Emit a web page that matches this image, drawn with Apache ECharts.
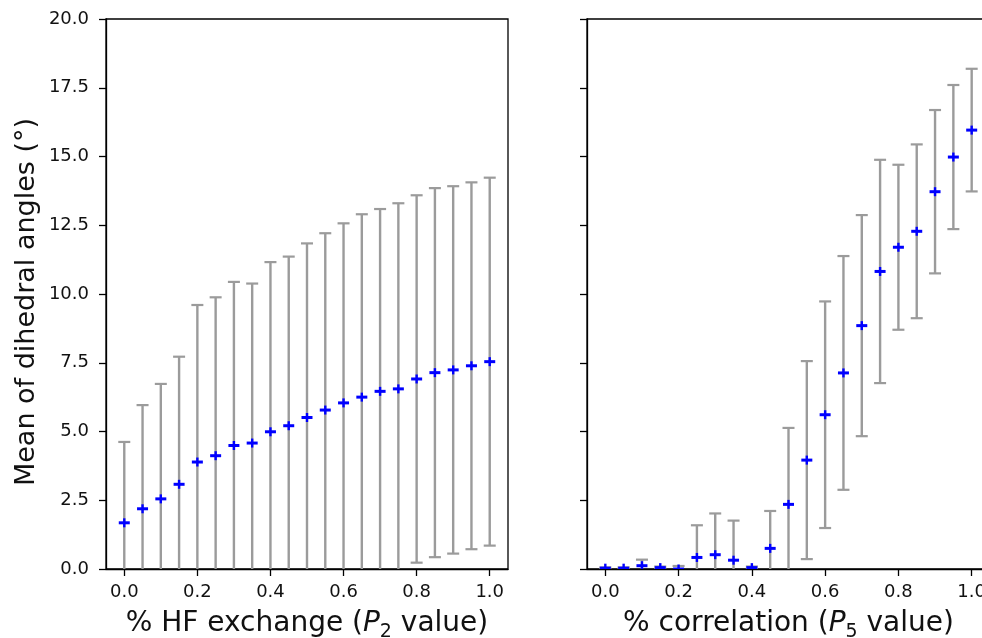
<!DOCTYPE html>
<html>
<head>
<meta charset="utf-8">
<script src="https://cdn.jsdelivr.net/npm/echarts@6/dist/echarts.min.js"></script>
<style>
html,body{margin:0;padding:0;background:#fff;}
#chart{width:982px;height:638px;}
</style>
</head>
<body>
<div id="chart"></div>
<script>
// x positions (parameter values)
const xValues = [0.00,0.05,0.10,0.15,0.20,0.25,0.30,0.35,0.40,0.45,0.50,0.55,0.60,0.65,0.70,0.75,0.80,0.85,0.90,0.95,1.00];
// Left panel: % HF exchange (P2) – mean and std of dihedral angles
const hfMean = [1.68,2.19,2.55,3.08,3.89,4.12,4.49,4.58,4.99,5.21,5.51,5.78,6.04,6.25,6.46,6.55,6.91,7.14,7.24,7.39,7.54];
const hfStd  = [2.94,3.77,4.18,4.64,5.71,5.76,5.95,5.80,6.17,6.15,6.33,6.43,6.53,6.65,6.63,6.75,6.68,6.71,6.68,6.67,6.69];
// Right panel: % correlation (P5) – mean and std of dihedral angles
const corrMean = [0.03,0.03,0.12,0.05,0.00,0.42,0.52,0.32,0.05,0.75,2.35,3.96,5.61,7.13,8.85,10.82,11.70,12.28,13.72,14.98,15.96];
const corrStd  = [0.03,0.03,0.22,0.04,0.11,1.17,1.50,1.44,0.04,1.36,2.78,3.60,4.12,4.25,4.02,4.06,3.00,3.16,2.97,2.62,2.23];
// tick labels
const xTicks = [0,0.2,0.4,0.6,0.8,1.0];
const yTickStep = 2.5;
const yMax = 20;
const yLabel = 'Mean of dihedral angles (°)';
const xLabelLeft = ['% HF exchange (', 'P', '2', ' value)'];
const xLabelRight = ['% correlation (', 'P', '5', ' value)'];

const FONT = 'DejaVu Sans';
const TXT = '#111';

function rows(means, stds){ return xValues.map((x,i)=>[x, means[i], stds[i]]); }

function renderErr(params, api){
  const x = api.value(0), m = api.value(1), s = api.value(2);
  const cs = params.coordSys;
  const top = api.coord([x, m + s]);
  const bot = api.coord([x, m - s]);
  const c = api.coord([x, m]);
  const yTop = cs.y, yBot = cs.y + cs.height;
  const grey = '#9b9b9b';
  const ch = [];
  ch.push({type:'line', shape:{x1:c[0], y1:Math.max(top[1], yTop), x2:c[0], y2:Math.min(bot[1], yBot)}, style:{stroke:grey, lineWidth:2.4}});
  if (top[1] >= yTop) ch.push({type:'line', shape:{x1:c[0]-6, y1:top[1], x2:c[0]+6, y2:top[1]}, style:{stroke:grey, lineWidth:2.2}});
  if (bot[1] <= yBot) ch.push({type:'line', shape:{x1:c[0]-6, y1:bot[1], x2:c[0]+6, y2:bot[1]}, style:{stroke:grey, lineWidth:2.2}});
  ch.push({type:'line', shape:{x1:c[0]-5.5, y1:c[1], x2:c[0]+5.5, y2:c[1]}, style:{stroke:'#0000ff', lineWidth:3}});
  ch.push({type:'line', shape:{x1:c[0], y1:c[1]-4.5, x2:c[0], y2:c[1]+4.5}, style:{stroke:'#0000ff', lineWidth:2.4}});
  return {type:'group', children:ch};
}

function richName(parts){
  return '{n|' + parts[0] + '}{i|' + parts[1] + '}{s|' + parts[2] + '}{n|' + parts[3] + '}';
}
const nameRich = {
  n:{fontFamily:FONT, fontSize:28, color:TXT, lineHeight:32, verticalAlign:'top'},
  i:{fontFamily:FONT, fontSize:28, color:TXT, fontStyle:'italic', lineHeight:32, verticalAlign:'top'},
  s:{fontFamily:FONT, fontSize:19, color:TXT, lineHeight:19, padding:[13,0,0,0], verticalAlign:'top'}
};

function xAxisCfg(gi, parts){
  return {
    type:'value', gridIndex:gi, min:-0.05, max:1.05,
    splitLine:{show:false},
    axisLine:{show:true, onZero:false, lineStyle:{color:'#000', width:1.3}},
    axisTick:{show:true, inside:false, length:7, customValues:xTicks, lineStyle:{color:'#000', width:1.3}},
    axisLabel:{show:true, customValues:xTicks, margin:14, fontFamily:FONT, fontSize:18, color:TXT,
      formatter:v=>Number(v).toFixed(1)},
    name:richName(parts), nameLocation:'middle', nameGap:41,
    nameTextStyle:{fontFamily:FONT, fontSize:28, color:TXT, rich:nameRich}
  };
}
function yAxisCfg(gi, showLabels){
  const cfg = {
    type:'value', gridIndex:gi, min:0, max:yMax, interval:yTickStep,
    splitLine:{show:false},
    axisLine:{show:true, onZero:false, lineStyle:{color:'#000', width:1.3}},
    axisTick:{show:true, inside:false, length:7, lineStyle:{color:'#000', width:1.3}},
    axisLabel:{show:showLabels, margin:17, fontFamily:FONT, fontSize:18, color:TXT,
      formatter:v=>Number(v).toFixed(1)}
  };
  if (showLabels){
    cfg.name = yLabel; cfg.nameLocation='middle'; cfg.nameGap=66;
    cfg.nameTextStyle = {fontFamily:FONT, fontSize:27, color:TXT, padding:[0,16,0,0]};
  }
  return cfg;
}

const chart = echarts.init(document.getElementById('chart'), null, {renderer:'canvas'});
chart.setOption({
  animation:false,
  backgroundColor:'#fff',
  grid:[
    {left:106, top:19, width:402, height:550, outerBoundsMode:'none', containLabel:false, show:true, borderColor:'#000', borderWidth:1.3, backgroundColor:'transparent'},
    {left:587, top:19, width:403, height:550, outerBoundsMode:'none', containLabel:false, show:true, borderColor:'#000', borderWidth:1.3, backgroundColor:'transparent'}
  ],
  xAxis:[xAxisCfg(0, xLabelLeft), xAxisCfg(1, xLabelRight)],
  yAxis:[yAxisCfg(0, true), yAxisCfg(1, false)],
  series:[
    {type:'custom', xAxisIndex:0, yAxisIndex:0, clip:true, renderItem:renderErr, data:rows(hfMean, hfStd)},
    {type:'custom', xAxisIndex:1, yAxisIndex:1, clip:true, renderItem:renderErr, data:rows(corrMean, corrStd)}
  ]
});
</script>
</body>
</html>
